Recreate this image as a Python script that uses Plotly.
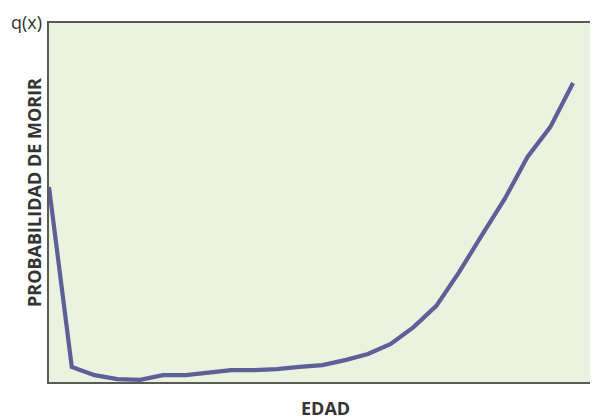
import plotly.graph_objects as go

# Age groups (index) and probability of dying q(x) (arbitrary units)
edad = list(range(24))
qx = [54.3, 4.2, 1.9, 0.8, 0.6, 1.9, 1.9, 2.5, 3.3, 3.3, 3.6, 4.2,
      4.7, 6.1, 7.8, 10.6, 15.3, 21.2, 30.6, 40.9, 51.0, 62.7, 71.0, 83.3]

x_title = "EDAD"
y_title = "PROBABILIDAD DE MORIR"
y_corner = "q(x)"
x_corner = "x"

fig = go.Figure()
fig.add_trace(go.Scatter(
    x=edad, y=qx, mode="lines",
    line=dict(color="#5d5f96", width=4.2),
    hoverinfo="skip", showlegend=False,
))

axis_common = dict(showgrid=False, zeroline=False, showticklabels=False, ticks="",
                   showline=True, linecolor="#5b5b55", linewidth=2, mirror=True)
fig.update_xaxes(range=[0, 23.92], **axis_common)
fig.update_yaxes(range=[0, 100], **axis_common)

fig.update_layout(
    width=590, height=409,
    margin=dict(l=41, r=2, t=15, b=35),
    paper_bgcolor="white",
    plot_bgcolor="#ebf2df",
    font=dict(family="Open Sans", color="#333333"),
    annotations=[
        dict(text=y_corner, xref="paper", yref="paper", x=-40/547, y=1 + 1/359,
             xanchor="left", yanchor="middle", showarrow=False,
             font=dict(size=18, color="#333333", family="Open Sans")),
        dict(text="<b>" + y_title + "</b>", xref="paper", yref="paper",
             x=-15/547, y=189 / 359, textangle=-90,
             xanchor="center", yanchor="middle", showarrow=False,
             font=dict(size=18, color="#333333", family="Open Sans")),
        dict(text="<b>" + x_title + "</b>", xref="paper", yref="paper",
             x=278 / 547, y=-26 / 359,
             xanchor="center", yanchor="middle", showarrow=False,
             font=dict(size=18, color="#333333", family="Open Sans")),
        dict(text=x_corner, xref="paper", yref="paper",
             x=543 / 547, y=-16 / 359,
             xanchor="left", yanchor="middle", showarrow=False,
             font=dict(size=16, color="#333333", family="Open Sans")),
    ],
)

fig.write_html("out.html")
